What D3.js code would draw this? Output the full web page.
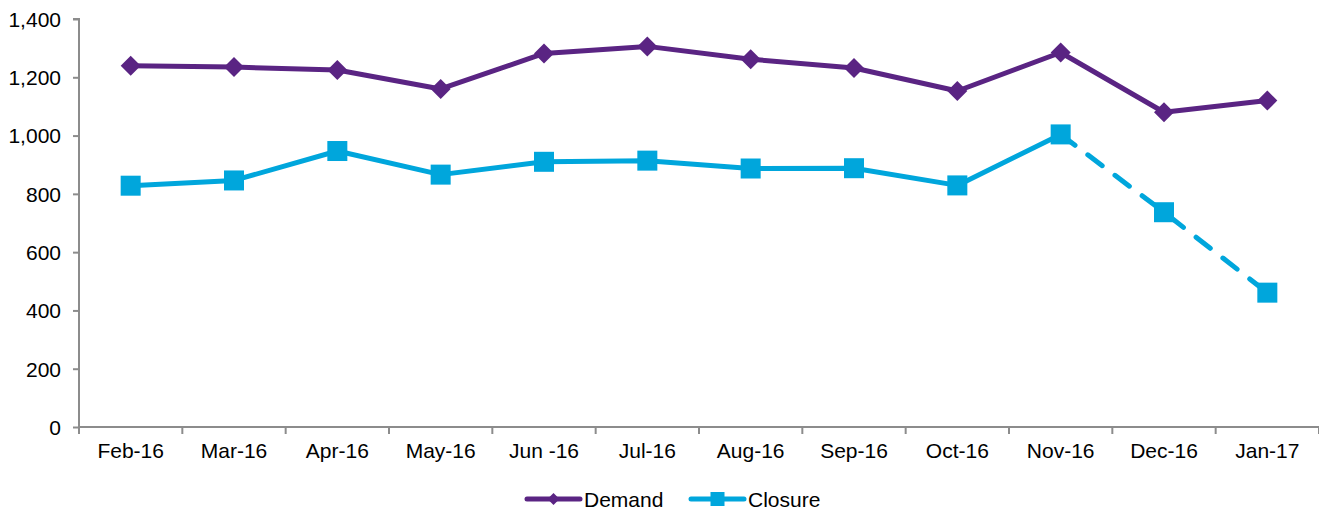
<!DOCTYPE html>
<html><head><meta charset="utf-8">
<script src="https://cdn.jsdelivr.net/npm/d3@7"></script>
<style>body{margin:0;background:#fff}svg{display:block}text{font-family:"Liberation Sans",Arial,sans-serif;fill:#000}</style>
</head><body><svg id="c" width="1319" height="514"></svg>
<script>
const categories = ["Feb-16","Mar-16","Apr-16","May-16","Jun -16","Jul-16","Aug-16","Sep-16","Oct-16","Nov-16","Dec-16","Jan-17"];
const demand = [1240,1235,1225,1160,1282,1306,1262,1232,1153,1285,1080,1120];
const closure = [828,846,947,866,910,914,887,888,829,1004,737,461];
const yTicks = [0,200,400,600,800,1000,1200,1400];
const seriesNames = ["Demand","Closure"];

const svg = d3.select("#c");
const m = {l:79, r:0, t:19, b:87};
const W = 1319, H = 514;
const x = d3.scaleBand().domain(categories).range([m.l, W - m.r]);
const y = d3.scaleLinear().domain([0,1400]).range([H - m.b, m.t]);
const cx = d => x(d) + x.bandwidth()/2;
const purple = "#5a2483", cyan = "#00a6dc", axisCol = "#8c8c8c";
const FS = 21;

// y axis
const ya = svg.append("g").attr("transform",`translate(${m.l},0)`)
  .call(d3.axisLeft(y).tickValues(yTicks).tickSize(6).tickPadding(12).tickFormat(d3.format(",")));
ya.selectAll("path,line").attr("stroke",axisCol).attr("stroke-width",2);
ya.select(".domain").attr("d",`M-6,${y(1400)}H0V${y(0)}`);
ya.selectAll("text").attr("font-size",FS).attr("dy","0.35em").style("font-family","Liberation Sans, Arial, sans-serif");

// x axis
const xa = svg.append("g").attr("transform",`translate(0,${y(0)})`);
xa.append("line").attr("x1",m.l).attr("x2",W).attr("stroke",axisCol).attr("stroke-width",2);
const bounds = categories.map(c => x(c)).concat([x(categories[categories.length-1]) + x.bandwidth()]);
xa.selectAll("line.t").data(bounds).join("line").attr("class","t")
  .attr("x1",d=>d).attr("x2",d=>d).attr("y1",0).attr("y2",7).attr("stroke",axisCol).attr("stroke-width",2);
xa.selectAll("text").data(categories).join("text")
  .attr("x",d=>cx(d)).attr("y",31).attr("text-anchor","middle").attr("font-size",FS).text(d=>d);

const line = d3.line().x(d=>cx(d.c)).y(d=>y(d.v));
const dPts = categories.map((c,i)=>({c, v:demand[i]}));
const cPts = categories.map((c,i)=>({c, v:closure[i]}));

svg.append("path").attr("d",line(dPts)).attr("fill","none").attr("stroke",purple).attr("stroke-width",5).attr("stroke-linejoin","round");
svg.append("path").attr("d",line(cPts.slice(0,10))).attr("fill","none").attr("stroke",cyan).attr("stroke-width",5).attr("stroke-linejoin","round");
svg.append("path").attr("d",line(cPts.slice(9))).attr("fill","none").attr("stroke",cyan).attr("stroke-width",5)
  .attr("stroke-dasharray","18,16").attr("stroke-linecap","round");

const diamond = (s) => `M0,${-s}L${s},0L0,${s}L${-s},0Z`;
svg.selectAll("path.dm").data(dPts).join("path").attr("class","dm")
  .attr("transform",d=>`translate(${cx(d.c)},${y(d.v)})`).attr("d",diamond(10)).attr("fill",purple);
svg.selectAll("rect.sq").data(cPts).join("rect").attr("class","sq")
  .attr("x",d=>cx(d.c)-10).attr("y",d=>y(d.v)-10).attr("width",20).attr("height",20).attr("fill",cyan);

// legend
const lg = svg.append("g").attr("transform","translate(0,499)");
const items = [{n:seriesNames[0],col:purple,mk:"d",x0:527},{n:seriesNames[1],col:cyan,mk:"s",x0:691}];
items.forEach(it=>{
  lg.append("line").attr("x1",it.x0).attr("x2",it.x0+53).attr("stroke",it.col).attr("stroke-width",5).attr("stroke-linecap","round");
  if(it.mk==="d") lg.append("path").attr("d",diamond(6)).attr("transform",`translate(${it.x0+26.5},0)`).attr("fill",it.col);
  else lg.append("rect").attr("x",it.x0+26.5-7).attr("y",-7).attr("width",14).attr("height",14).attr("fill",it.col);
  lg.append("text").attr("x",it.x0+57).attr("y",8).attr("font-size",FS).text(it.n);
});
</script></body></html>
